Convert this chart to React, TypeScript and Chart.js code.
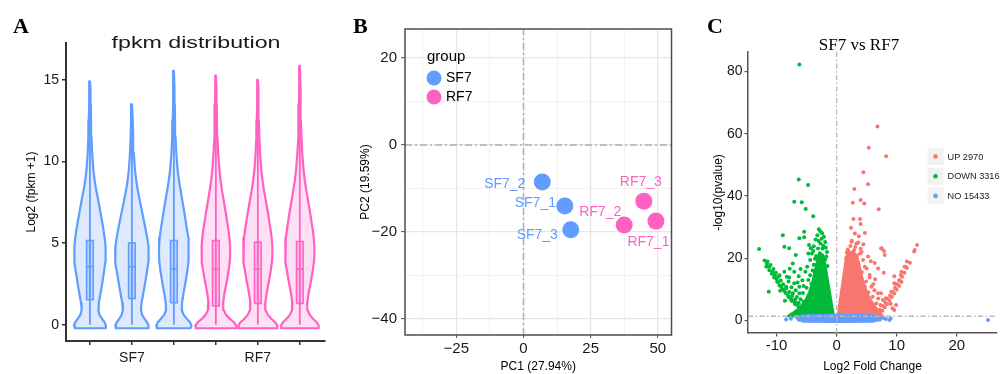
import React, { useEffect, useRef } from 'react';
import { Chart, registerables } from 'chart.js';

Chart.register(...registerables);

const SANS = '"Liberation Sans", Arial, Helvetica, sans-serif';
const SERIF = '"Liberation Serif", "Times New Roman", Times, serif';
Chart.defaults.font.family = SANS;

const BLUE = '#619CFF';
const PINK = '#FF61C3';
const RED = '#F8766D';
const GREEN = '#00BA38';

// ---------------- Panel A : fpkm distribution (violins) ----------------
const SAMPLES_A = ['SF7_1', 'SF7_2', 'SF7_3', 'RF7_1', 'RF7_2', 'RF7_3'];
const GROUP_OF_SAMPLE = ['SF7', 'SF7', 'SF7', 'RF7', 'RF7', 'RF7'];
const X_TICK_POS_A = [1, 2, 3, 4, 5, 6];
const X_TICK_LABELS_A = ['', 'SF7', '', '', 'RF7', ''];
const Y_TICKS_A = [0, 5, 10, 15];
// log2(fpkm+1) levels at which the violin density was read
const DENSITY_Y = [-0.22, -0.05, 0.15, 0.35, 0.6, 0.9, 1.3, 1.8, 2.3, 2.8, 3.3, 3.8, 4.3, 4.8, 5.3, 5.8, 6.3, 6.8, 7.3, 7.8, 8.3, 8.8, 9.5, 10.5, 11.5, 12.5, 13.5, 14.5];
// density (half width) per sample at DENSITY_Y
const DENSITY_SF7_1 = [15.5, 16.3, 15, 12.5, 9.8, 8.5, 9, 10.5, 12, 13.3, 14.6, 15.6, 16.2, 15.9, 15.1, 13.9, 12.5, 11.0, 9.5, 7.9, 6.3, 4.9, 3.5, 2.3, 1.6, 1.2, 0.9, 0.6];
const DENSITY_SF7_2 = [16.5, 17, 15.5, 13, 10.5, 9.3, 9.8, 11.3, 12.8, 14.2, 15.6, 16.8, 17.3, 16.8, 15.7, 14.2, 12.5, 10.8, 9.1, 7.4, 5.8, 4.5, 3.1, 2.0, 1.3, 0.9];
const DENSITY_SF7_3 = [17.5, 18, 16.5, 13.5, 10, 8, 8.3, 9.5, 11, 12.5, 13.8, 14.8, 15.3, 15.2, 14.6, 13.5, 12.2, 10.9, 9.5, 8.1, 6.7, 5.3, 3.8, 2.5, 1.7, 1.2, 0.9, 0.6];
const DENSITY_RF7_1 = [20.7, 21, 18.5, 14.5, 10.5, 8, 7.5, 8.5, 10, 11.6, 13, 14.2, 14.7, 14.6, 13.9, 12.9, 11.6, 10.3, 8.9, 7.5, 6.1, 4.9, 3.6, 2.4, 1.6, 1.2, 0.9, 0.6];
const DENSITY_RF7_2 = [19.7, 20, 17.8, 14, 10.3, 8, 7.6, 8.7, 10.2, 11.8, 13.2, 14.4, 15, 14.9, 14.2, 13.1, 11.8, 10.5, 9.0, 7.6, 6.1, 4.9, 3.5, 2.3, 1.5, 1.1, 0.8, 0.5];
const DENSITY_RF7_3 = [19, 19.3, 17.3, 13.8, 10.2, 8, 7.6, 8.7, 10.2, 11.8, 13.2, 14.4, 15, 14.9, 14.3, 13.3, 12.0, 10.7, 9.3, 7.9, 6.5, 5.2, 3.8, 2.5, 1.7, 1.2, 0.9, 0.6];
const DENSITIES = [DENSITY_SF7_1, DENSITY_SF7_2, DENSITY_SF7_3, DENSITY_RF7_1, DENSITY_RF7_2, DENSITY_RF7_3];
const VIOLIN_MAX = [14.9, 13.5, 15.55, 15.25, 15.0, 15.85];
const WHISKER_MIN = [0, 0, 0, 0, 0, 0];
const BOX_Q1 = [1.53, 1.6, 1.35, 1.15, 1.3, 1.3];
const BOX_MEDIAN = [3.55, 3.55, 3.4, 3.4, 3.4, 3.4];
const BOX_Q3 = [5.15, 5.0, 5.15, 5.15, 5.05, 5.1];

// ---------------- Panel B : PCA ----------------
const PCA_SAMPLES = ['SF7_1', 'SF7_2', 'SF7_3', 'RF7_1', 'RF7_2', 'RF7_3'];
const PCA_GROUP = ['SF7', 'SF7', 'SF7', 'RF7', 'RF7', 'RF7'];
const PC1 = [15.4, 7.0, 17.6, 49.3, 37.5, 44.8];
const PC2 = [-14.0, -8.5, -19.5, -17.5, -18.4, -12.9];
const GROUPS = ['SF7', 'RF7'];
const X_TICKS_B = [-37.5, -25, -12.5, 0, 12.5, 25, 37.5, 50];
const Y_TICKS_B = [-40, -30, -20, -10, 0, 10, 20];
const ZERO_LINE_B = 0;

// ---------------- Panel C : volcano ----------------
const X_TICKS_C = [-10, 0, 10, 20];
const Y_TICKS_C = [0, 20, 40, 60, 80];
const FC_LINE = 0;
const P_LINE = 1.3;
const UP_COUNT = 2970;
const DOWN_COUNT = 3316;
const NO_COUNT = 15433;

const DOWN_POINTS = [
  [-6.2, 82.3], [-6.3, 45.3], [-4.75, 43.5], [-7.05, 38.1], [-5.8, 38.0], [-5.15, 35.8], [-3.9, 33.5],
  [-8.95, 27.4], [-8.7, 23.7], [-7.9, 23.2], [-12.9, 22.9], [-6.8, 21.0], [-6.2, 26.4], [-5.4, 26.7], [-5.4, 28.5], [-4.6, 24.2], [-4.7, 21.5], [-4.3, 23.2],
  [-2.95, 29.3], [-2.7, 28.6], [-2.4, 28.0], [-3.2, 27.4], [-2.1, 26.9], [-3.5, 26.0], [-1.9, 25.2], [-2.7, 24.7], [-3.8, 23.8], [-3.1, 23.1], [-2.35, 23.1], [-1.6, 22.0],
  [-4.1, 21.5], [-3.4, 20.7], [-2.5, 20.5], [-1.9, 19.6], [-4.4, 19.4], [-3.0, 18.9], [-3.8, 17.9], [-2.2, 17.9], [-4.9, 17.2], [-3.2, 16.7], [-5.2, 15.6], [-4.4, 14.5],
  [-5.7, 12.9], [-6.2, 10.8], [-6.8, 9.7], [-7.3, 8.7], [-3.6, 19.8], [-2.8, 21.6], [-2.2, 24.0], [-4.0, 16.0], [-4.7, 13.0], [-5.0, 10.5], [-5.6, 8.8], [-4.2, 11.8],
  [-3.6, 15.2], [-2.6, 19.3], [-1.7, 20.5], [-1.5, 17.5], [-3.0, 25.5], [-2.5, 26.2], [-3.9, 22.3], [-1.8, 23.3],
  [-7.3, 18.3], [-7.05, 15.6], [-7.9, 13.8], [-8.4, 10.8], [-6.5, 12.2], [-9.5, 14.5], [-11.3, 9.2], [-8.7, 15.6], [-6.0, 16.5], [-6.6, 7.5],
  [-7.05, 11.9], [-6.2, 8.7], [-7.9, 7.6], [-8.0, 12.5], [-7.5, 10.6], [-6.0, 6.8], [-5.5, 6.0], [-7.8, 16.6], [-8.3, 14.0], [-6.3, 14.2], [-5.5, 11.0], [-6.7, 5.6], [-8.6, 6.3], [-9.4, 9.5],
  [-12.0, 19.2], [-11.6, 18.3], [-11.2, 17.2], [-10.7, 15.6], [-10.3, 14.5], [-10.0, 13.4], [-9.7, 12.3], [-9.2, 10.8], [-8.7, 9.4], [-8.1, 8.1], [-7.6, 7.0], [-7.05, 5.9], [-6.5, 4.9], [-6.0, 3.8], [-5.4, 2.7], [-4.9, 1.8],
  [-11.5, 18.9], [-11.0, 17.8], [-10.5, 16.5], [-10.1, 15.3], [-9.7, 14.0], [-9.3, 12.8], [-8.9, 11.6], [-8.4, 10.3], [-7.9, 9.1], [-7.4, 7.9], [-6.9, 6.8], [-6.3, 5.6], [-5.8, 4.5], [-5.2, 3.4], [-4.6, 2.4],
  [-11.7, 17.2], [-11.2, 16.1], [-10.8, 15.0], [-10.4, 13.8], [-9.9, 12.4], [-9.5, 11.2], [-9.0, 10.0], [-8.5, 8.8], [-8.0, 7.5], [-7.5, 6.3], [-6.9, 5.2], [-6.3, 4.2], [-5.7, 3.1], [-5.1, 2.1],
];

const UP_POINTS = [
  [6.8, 62.3], [5.35, 55.5], [8.25, 52.8], [4.45, 47.6], [5.25, 43.8], [2.95, 42.2], [4.0, 38.7], [2.7, 37.8], [4.6, 37.6], [7.0, 35.7], [2.8, 32.6], [3.9, 32.6], [4.0, 31.0],
  [2.4, 29.8], [4.7, 28.1], [3.05, 27.9], [2.5, 25.6], [3.6, 25.0], [4.45, 24.5], [1.85, 22.8], [4.15, 22.0], [7.5, 23.2], [7.9, 22.3], [5.25, 20.5], [6.35, 18.4], [6.9, 16.7],
  [7.85, 15.3], [13.4, 24.2], [13.0, 22.6], [11.7, 18.9], [11.3, 17.2], [10.8, 15.6], [9.6, 14.2], [10.4, 12.9], [9.9, 11.6], [9.9, 4.9], [9.6, 3.3], [9.0, 5.3],
  [2.5, 25.3], [3.3, 24.7], [2.0, 22.1], [3.9, 21.5], [4.4, 19.4], [5.0, 16.7], [5.5, 14.6], [5.8, 10.8], [6.9, 8.7], [7.7, 6.5], [3.6, 18.4], [4.7, 17.2], [5.5, 13.8],
  [6.1, 11.6], [4.7, 10.8], [4.15, 8.6], [6.3, 9.7], [6.9, 7.0], [5.5, 6.0], [7.4, 8.7], [2.2, 21.0], [2.9, 22.5], [1.6, 20.0], [3.4, 20.8], [4.2, 15.5], [4.9, 12.5],
  [5.3, 9.0], [6.0, 7.6], [3.1, 23.6], [2.3, 23.9], [1.7, 21.8], [4.0, 23.0], [3.7, 27.0], [5.7, 19.0], [6.4, 13.2], [6.6, 5.4], [7.3, 4.9],
  [6.6, 2.3], [7.2, 3.4], [7.7, 4.6], [8.1, 5.7], [8.5, 6.9], [8.9, 8.0], [9.3, 9.2], [9.7, 10.4], [10.1, 11.6], [10.5, 12.8], [10.9, 14.0], [11.3, 15.3], [11.7, 16.8], [12.2, 18.5],
  [7.0, 2.0], [7.6, 3.1], [8.0, 4.2], [8.4, 5.2], [8.8, 6.3], [9.2, 7.5], [9.6, 8.6], [10.0, 9.8], [10.4, 11.0], [10.8, 12.3],
  [8.2, 7.1], [9.1, 9.2], [9.6, 11.9], [10.7, 14.6], [11.5, 17.2], [12.9, 22.1], [8.0, 21.0], [7.4, 23.1], [9.3, 3.9],
];

const NO_POINTS = [
  [-8.4, 0.3], [-7.6, 0.5], [-6.6, 0.9], [-6.3, 0.2], [-6.0, 1.1], [-5.9, 0.4], [6.6, 1.2], [6.8, 0.8], [7.2, 0.2], [7.6, 1.0], [7.9, 0.7], [8.2, 0.4], [8.8, 0.1], [9.0, 0.6], [25.2, 0.1],
];

// outlines of the regions where points are too dense to separate
const DOWN_DENSE = [[-0.5, 1.4], [-0.8, 4.5], [-1.1, 8], [-1.4, 11.5], [-1.7, 15], [-2.0, 18.5], [-2.3, 21], [-2.8, 21.5], [-3.2, 19], [-3.6, 15.5], [-4.0, 12], [-4.5, 9], [-5.2, 6.2], [-6.1, 4.0], [-7.1, 2.5], [-8.0, 1.4], [-0.5, 1.4]];
const UP_DENSE = [[0.3, 1.4], [0.5, 5], [0.8, 9], [1.1, 13], [1.4, 17], [1.6, 20], [1.9, 21.5], [2.6, 21.8], [3.3, 21], [3.7, 18], [4.1, 14.5], [4.6, 11], [5.2, 8], [6.0, 5.3], [6.8, 3.3], [7.6, 1.4], [0.3, 1.4]];
const NO_DENSE = [[-6.2, 0.2], [-5.5, -0.3], [0, -0.35], [6.0, -0.3], [7.0, 0.2], [7.0, 1.0], [6.0, 1.5], [0, 1.6], [-5.5, 1.5], [-6.2, 1.0], [-6.2, 0.2]];

// ---------------- helpers ----------------
type TextItem = { text: string; x: number; y: number; font: string; color: string; align?: string; baseline?: string; scaleX?: number };

function makeTextPlugin(id: string, items: TextItem[]) {
  return {
    id,
    afterDraw(chart: any) {
      const ctx = chart.ctx;
      for (const t of items) {
        ctx.save();
        ctx.font = t.font;
        ctx.fillStyle = t.color;
        ctx.textAlign = t.align ?? 'left';
        ctx.textBaseline = t.baseline ?? 'alphabetic';
        ctx.translate(t.x, t.y);
        if (t.scaleX) ctx.scale(t.scaleX, 1);
        ctx.fillText(t.text, 0, 0);
        ctx.restore();
      }
    },
  };
}

const toXY = (arr: number[][]) => arr.map(([x, y]) => ({ x, y }));
const fixedTicks = (vals: number[]) => (scale: any) => {
  scale.ticks = vals.map((v) => ({ value: v }));
};
const minus = (v: number) => (v < 0 ? '\u2212' + Math.abs(v) : String(v));

// ---------------- configs ----------------
function violinConfig() {
  const VIOLIN_SCALE = 1 / 43;
  const BOX_HALF = 0.08;
  const datasets: any[] = [];
  SAMPLES_A.forEach((_, i) => {
    const c = X_TICK_POS_A[i];
    const sf = GROUP_OF_SAMPLE[i] === 'SF7';
    const line = sf ? BLUE : PINK;
    const fillC = sf ? 'rgba(97,156,255,0.22)' : 'rgba(255,97,195,0.2)';
    const boxFill = sf ? 'rgba(97,156,255,0.3)' : 'rgba(255,97,195,0.28)';
    const dens = DENSITIES[i];
    const right = dens.map((d, k) => ({ x: c + d * VIOLIN_SCALE, y: DENSITY_Y[k] }));
    const left = dens.map((d, k) => ({ x: c - d * VIOLIN_SCALE, y: DENSITY_Y[k] })).reverse();
    const outline = [...right, { x: c, y: VIOLIN_MAX[i] }, ...left, right[0]];
    datasets.push({ data: outline, showLine: true, fill: 'shape', borderColor: line, backgroundColor: fillC, borderWidth: 2.2, borderJoinStyle: 'round', pointRadius: 0, tension: 0, order: 3 });
    const box = [
      { x: c - BOX_HALF, y: BOX_Q1[i] }, { x: c + BOX_HALF, y: BOX_Q1[i] },
      { x: c + BOX_HALF, y: BOX_Q3[i] }, { x: c - BOX_HALF, y: BOX_Q3[i] }, { x: c - BOX_HALF, y: BOX_Q1[i] },
    ];
    datasets.push({ data: box, showLine: true, fill: 'shape', borderColor: line, backgroundColor: boxFill, borderWidth: 1.5, pointRadius: 0, order: 2 });
    datasets.push({ data: [{ x: c, y: WHISKER_MIN[i] }, { x: c, y: VIOLIN_MAX[i] }], showLine: true, borderColor: line, borderWidth: 1.8, pointRadius: 0, order: 1 });
    datasets.push({ data: [{ x: c - BOX_HALF, y: BOX_MEDIAN[i] }, { x: c + BOX_HALF, y: BOX_MEDIAN[i] }], showLine: true, borderColor: line, borderWidth: 1.5, pointRadius: 0, order: 0 });
  });
  return {
    type: 'scatter',
    data: { datasets },
    options: {
      animation: false, responsive: true, maintainAspectRatio: false, devicePixelRatio: 1, events: [],
      layout: { padding: { left: 0, right: 15, top: 43, bottom: 0 } },
      plugins: { legend: { display: false }, tooltip: { enabled: false } },
      scales: {
        x: {
          type: 'linear', min: 0.43, max: 6.6,
          afterBuildTicks: fixedTicks(X_TICK_POS_A),
          afterFit: (s: any) => { s.height = 33; },
          ticks: { callback: (v: number) => X_TICK_LABELS_A[Math.round(v) - 1] ?? '', font: { size: 14 }, color: '#1a1a1a', padding: 4.6, maxRotation: 0, autoSkip: false },
          grid: { display: true, drawOnChartArea: false, drawTicks: true, tickLength: 4, color: '#333', lineWidth: 1.5 },
          border: { display: true, color: '#333', width: 2 },
        },
        y: {
          type: 'linear', min: -1, max: 17.25,
          afterBuildTicks: fixedTicks(Y_TICKS_A),
          afterFit: (s: any) => { s.width = 66; },
          ticks: { font: { size: 14 }, color: '#1a1a1a', padding: 3 },
          grid: { display: true, drawOnChartArea: false, drawTicks: true, tickLength: 4, color: '#333', lineWidth: 1.5 },
          border: { display: true, color: '#333', width: 2 },
          title: { display: true, text: 'Log2 (fpkm +1)', font: { size: 12 }, color: '#000', padding: { top: 24, bottom: 0 } },
        },
      },
    },
    plugins: [
      makeTextPlugin('textsA', [
        { text: 'A', x: 13, y: 33, font: `bold 22px ${SERIF}`, color: '#000' },
        { text: 'fpkm distribution', x: 196, y: 47.5, font: `16px ${SANS}`, color: '#1a1a1a', align: 'center', scaleX: 1.45 },
      ]),
    ],
  };
}

function pcaConfig() {
  const Y_MIN = -43.7, Y_MAX = 26.7, X_MIN = -44.1, X_MAX = 55.1;
  const colors: Record<string, string> = { SF7: BLUE, RF7: PINK };
  const groupData = GROUPS.map((g) => PCA_SAMPLES.map((s, i) => ({ i, s })).filter((o) => PCA_GROUP[o.i] === g));
  const datasets: any[] = [
    { data: [{ x: ZERO_LINE_B, y: Y_MIN }, { x: ZERO_LINE_B, y: Y_MAX }], showLine: true, borderColor: '#b0b0b0', borderWidth: 1.5, borderDash: [7, 3, 2, 3], pointRadius: 0, order: 5 },
    { data: [{ x: X_MIN, y: ZERO_LINE_B }, { x: X_MAX, y: ZERO_LINE_B }], showLine: true, borderColor: '#b0b0b0', borderWidth: 1.5, borderDash: [7, 3, 2, 3], pointRadius: 0, order: 4 },
  ];
  GROUPS.forEach((g, k) => {
    datasets.push({
      label: g,
      data: groupData[k].map((o) => ({ x: PC1[o.i], y: PC2[o.i] })),
      pointRadius: 8.5, backgroundColor: colors[g], borderWidth: 0, order: 1 - k,
    });
  });
  const LABEL_OFFSETS: Record<string, [number, number]> = {
    SF7_1: [-29.5, -3], SF7_2: [-37.5, 2], SF7_3: [-33.5, 5],
    RF7_1: [-7.5, 21], RF7_2: [-24, -13], RF7_3: [-3, -19],
  };
  const isMajorX = (v: number) => Math.abs(v % 25) < 1e-6;
  const isMajorY = (v: number) => Math.abs(v % 20) < 1e-6;
  const labelPlugin = {
    id: 'pcaLabels',
    afterDatasetsDraw(chart: any) {
      const ctx = chart.ctx;
      ctx.save();
      ctx.font = `14px ${SANS}`;
      ctx.textAlign = 'center';
      ctx.textBaseline = 'middle';
      GROUPS.forEach((g, k) => {
        const meta = chart.getDatasetMeta(2 + k);
        meta.data.forEach((el: any, j: number) => {
          const name = groupData[k][j].s;
          const [dx, dy] = LABEL_OFFSETS[name];
          ctx.fillStyle = colors[g];
          ctx.fillText(name, el.x + dx, el.y + dy);
        });
      });
      // panel border
      const a = chart.chartArea;
      ctx.strokeStyle = '#4d4d4d';
      ctx.lineWidth = 1.5;
      ctx.strokeRect(a.left, a.top, a.right - a.left, a.bottom - a.top);
      ctx.restore();
    },
    afterDraw(chart: any) {
      const ctx = chart.ctx;
      ctx.save();
      ctx.textAlign = 'left';
      ctx.textBaseline = 'middle';
      ctx.fillStyle = '#000';
      ctx.font = `15px ${SANS}`;
      ctx.fillText('group', 87, 57);
      GROUPS.forEach((g, k) => {
        const y = 78 + k * 19;
        ctx.beginPath();
        ctx.arc(94, y, 7.5, 0, Math.PI * 2);
        ctx.fillStyle = colors[g];
        ctx.fill();
        ctx.fillStyle = '#000';
        ctx.font = `14px ${SANS}`;
        ctx.fillText(g, 106, y + 0.5);
      });
      ctx.restore();
    },
  };
  return {
    type: 'scatter',
    data: { datasets },
    options: {
      animation: false, responsive: true, maintainAspectRatio: false, devicePixelRatio: 1, events: [],
      layout: { padding: { left: 0, right: 5, top: 29, bottom: 0 } },
      plugins: { legend: { display: false }, tooltip: { enabled: false } },
      scales: {
        x: {
          type: 'linear', min: X_MIN, max: X_MAX,
          afterBuildTicks: fixedTicks(X_TICKS_B),
          afterFit: (s: any) => { s.height = 39; },
          ticks: { callback: (v: number) => (isMajorX(v) ? minus(v) : ''), font: { size: 15 }, color: '#1a1a1a', padding: 1.5, maxRotation: 0, autoSkip: false },
          grid: {
            color: (c: any) => (c.tick && isMajorX(c.tick.value) ? '#e6e6e6' : '#f0f0f0'),
            lineWidth: (c: any) => (c.tick && isMajorX(c.tick.value) ? 1.3 : 0.9),
            tickColor: (c: any) => (c.tick && isMajorX(c.tick.value) ? '#4d4d4d' : 'rgba(0,0,0,0)'),
            tickLength: 3, drawTicks: true, drawOnChartArea: true, tickWidth: 1,
          },
          border: { display: false },
          title: { display: true, text: 'PC1 (27.94%)', font: { size: 12 }, color: '#000', padding: { top: 0, bottom: 0 } },
        },
        y: {
          type: 'linear', min: Y_MIN, max: Y_MAX,
          afterBuildTicks: fixedTicks(Y_TICKS_B),
          afterFit: (s: any) => { s.width = 65; },
          ticks: { callback: (v: number) => (isMajorY(v) ? minus(v) : ''), font: { size: 15 }, color: '#1a1a1a', padding: 4, autoSkip: false },
          grid: {
            color: (c: any) => (c.tick && isMajorY(c.tick.value) ? '#e6e6e6' : '#f0f0f0'),
            lineWidth: (c: any) => (c.tick && isMajorY(c.tick.value) ? 1.3 : 0.9),
            tickColor: (c: any) => (c.tick && isMajorY(c.tick.value) ? '#4d4d4d' : 'rgba(0,0,0,0)'),
            tickLength: 4, drawTicks: true, drawOnChartArea: true, tickWidth: 1,
          },
          border: { display: false },
          title: { display: true, text: 'PC2 (19.59%)', font: { size: 12 }, color: '#000', padding: { top: 18.8, bottom: 0 } },
        },
      },
    },
    plugins: [
      labelPlugin,
      makeTextPlugin('textsB', [{ text: 'B', x: 13, y: 33, font: `bold 22px ${SERIF}`, color: '#000' }]),
    ],
  };
}

function volcanoConfig() {
  const X_MIN = -14.75, X_MAX = 26.7, Y_MIN = -4.08, Y_MAX = 86.3;
  const dash = [5, 2.5, 1.5, 2.5];
  const pts = (arr: number[][], color: string, order: number) => ({
    data: toXY(arr), pointRadius: 2, backgroundColor: color, borderWidth: 0, order,
  });
  const dense = (arr: number[][], color: string, order: number) => ({
    data: toXY(arr), showLine: true, fill: 'shape', borderColor: color, backgroundColor: color, borderWidth: 3, borderJoinStyle: 'round', pointRadius: 0, order,
  });
  const datasets: any[] = [
    { data: [{ x: FC_LINE, y: Y_MIN }, { x: FC_LINE, y: Y_MAX }], showLine: true, borderColor: '#b8b8b8', borderWidth: 1.3, borderDash: dash, pointRadius: 0, order: 0 },
    { data: [{ x: X_MIN, y: P_LINE }, { x: X_MAX, y: P_LINE }], showLine: true, borderColor: '#b8b8b8', borderWidth: 1.3, borderDash: dash, pointRadius: 0, order: 1 },
    pts(NO_POINTS, BLUE, 2),
    dense(NO_DENSE, BLUE, 3),
    pts(DOWN_POINTS, GREEN, 4),
    pts(UP_POINTS, RED, 5),
    dense(DOWN_DENSE, GREEN, 6),
    dense(UP_DENSE, RED, 7),
  ];
  const legendRows = [
    { label: `UP ${UP_COUNT}`, color: RED },
    { label: `DOWN ${DOWN_COUNT}`, color: GREEN },
    { label: `NO ${NO_COUNT}`, color: BLUE },
  ];
  const legendPlugin = {
    id: 'volcanoLegend',
    afterDraw(chart: any) {
      const ctx = chart.ctx;
      ctx.save();
      legendRows.forEach((r, k) => {
        const top = 148 + k * 19.7;
        ctx.fillStyle = '#f2f2f2';
        ctx.fillRect(247.5, top, 16, 17);
        ctx.beginPath();
        ctx.arc(255.5, top + 8.5, 2.3, 0, Math.PI * 2);
        ctx.fillStyle = r.color;
        ctx.fill();
        ctx.fillStyle = '#1a1a1a';
        ctx.font = `9.2px ${SANS}`;
        ctx.textAlign = 'left';
        ctx.textBaseline = 'middle';
        ctx.fillText(r.label, 267.5, top + 9);
      });
      ctx.restore();
    },
  };
  return {
    type: 'scatter',
    data: { datasets },
    options: {
      animation: false, responsive: true, maintainAspectRatio: false, devicePixelRatio: 1, events: [],
      layout: { padding: { left: 0, right: 0, top: 52, bottom: 0 } },
      plugins: { legend: { display: false }, tooltip: { enabled: false } },
      scales: {
        x: {
          type: 'linear', min: X_MIN, max: X_MAX,
          afterBuildTicks: fixedTicks(X_TICKS_C),
          afterFit: (s: any) => { s.height = 41; },
          ticks: { font: { size: 15 }, color: '#1a1a1a', padding: 0.5, maxRotation: 0, autoSkip: false },
          grid: { display: true, drawOnChartArea: false, drawTicks: true, tickLength: 3.5, color: '#555', lineWidth: 1.2 },
          border: { display: true, color: '#555', width: 1.5 },
          title: { display: true, text: 'Log2 Fold Change', font: { size: 12 }, color: '#000', padding: { top: 0, bottom: 0 } },
        },
        y: {
          type: 'linear', min: Y_MIN, max: Y_MAX,
          afterBuildTicks: fixedTicks(Y_TICKS_C),
          afterFit: (s: any) => { s.width = 68; },
          ticks: { font: { size: 14 }, color: '#1a1a1a', padding: 2, autoSkip: false },
          grid: { display: true, drawOnChartArea: false, drawTicks: true, tickLength: 3.5, color: '#555', lineWidth: 1.2 },
          border: { display: true, color: '#555', width: 1.5 },
          title: { display: true, text: '-log10(pvalue)', font: { size: 12 }, color: '#000', padding: { top: 31.8, bottom: 0 } },
        },
      },
    },
    plugins: [
      legendPlugin,
      makeTextPlugin('textsC', [
        { text: 'C', x: 27, y: 33, font: `bold 22px ${SERIF}`, color: '#000' },
        { text: 'SF7 vs RF7', x: 179, y: 49.5, font: `17px ${SERIF}`, color: '#000', align: 'center' },
      ]),
    ],
  };
}

function ChartPanel({ left, width, build }: { left: number; width: number; build: () => any }) {
  const ref = useRef<HTMLCanvasElement>(null);
  useEffect(() => {
    const chart = new Chart(ref.current as HTMLCanvasElement, build());
    return () => chart.destroy();
  }, []);
  return (
    <div style={{ position: 'absolute', left, top: 0, width, height: 374 }}>
      <canvas ref={ref} />
    </div>
  );
}

export default function App() {
  return (
    <div style={{ position: 'fixed', left: 0, top: 0, width: 1001, height: 374, background: '#fff', overflow: 'hidden' }}>
      <ChartPanel left={0} width={340} build={violinConfig} />
      <ChartPanel left={340} width={340} build={pcaConfig} />
      <ChartPanel left={680} width={321} build={volcanoConfig} />
    </div>
  );
}
